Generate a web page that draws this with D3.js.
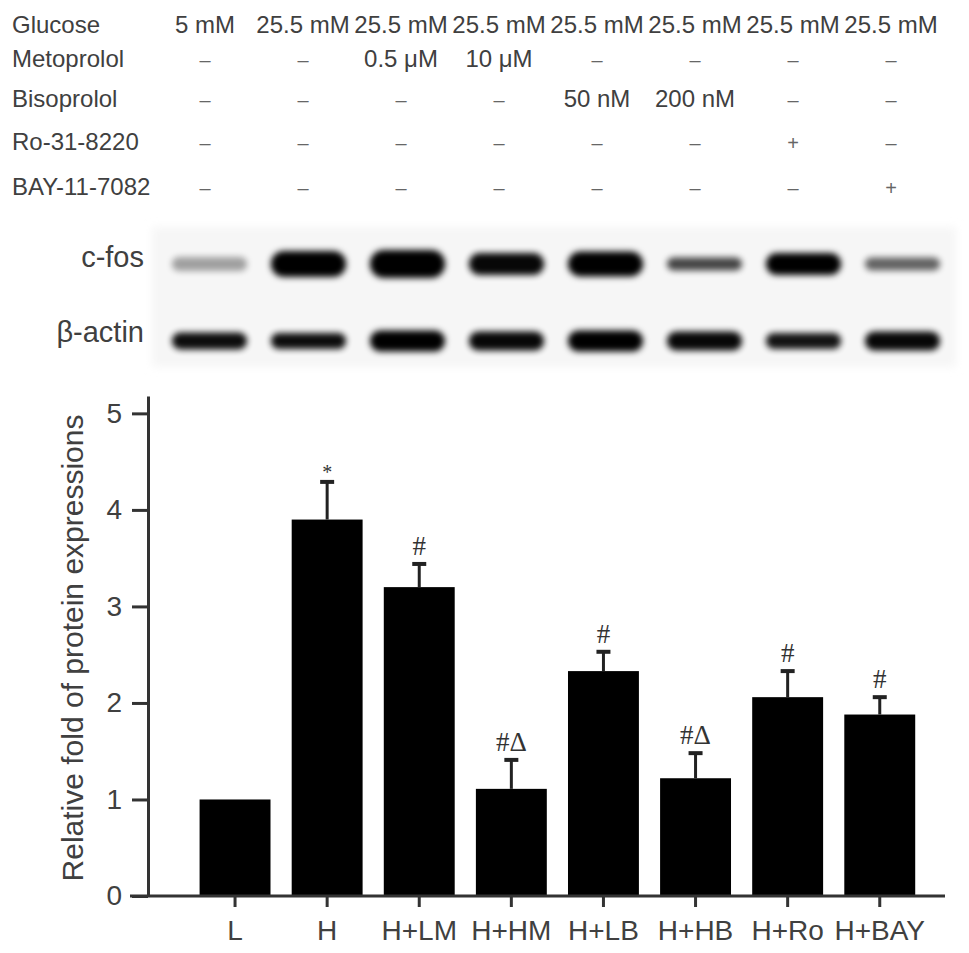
<!DOCTYPE html>
<meta charset="utf-8">
<script src="https://d3js.org/d3.v7.min.js"></script>
<style>
  body { margin: 0; background: #fff; }
  svg { font-family: "Liberation Sans", Arial, sans-serif; }
</style>
<div id="chart"></div>
<script>
// groups / lanes
const lanes = ["L", "H", "H+LM", "H+HM", "H+LB", "H+HB", "H+Ro", "H+BAY"];

// treatment table
const treatments = ["Glucose", "Metoprolol", "Bisoprolol", "Ro-31-8220", "BAY-11-7082"];
const glucose    = ["5 mM", "25.5 mM", "25.5 mM", "25.5 mM", "25.5 mM", "25.5 mM", "25.5 mM", "25.5 mM"];
const metoprolol = ["–", "–", "0.5 μM", "10 μM", "–", "–", "–", "–"];
const bisoprolol = ["–", "–", "–", "–", "50 nM", "200 nM", "–", "–"];
const ro318220   = ["–", "–", "–", "–", "–", "–", "+", "–"];
const bay117082  = ["–", "–", "–", "–", "–", "–", "–", "+"];
const tableRows = [glucose, metoprolol, bisoprolol, ro318220, bay117082];

// western blot band signal (0-1) and band thickness
const cfosSignal  = [0.35, 1, 1, 0.97, 1, 0.72, 1, 0.6];
const cfosThick   = [14, 26, 28, 22, 25, 13, 22, 13];
const actinSignal = [0.95, 0.95, 1, 0.97, 1, 0.97, 0.92, 0.97];
const actinThick  = [17, 16, 21, 19, 21, 19, 16, 19];

// relative fold of protein expression
const foldMean = [1.0, 3.90, 3.20, 1.11, 2.33, 1.22, 2.06, 1.88];
const foldSE   = [0, 0.39, 0.24, 0.30, 0.20, 0.26, 0.27, 0.18];
const marks    = ["", "*", "#", "#Δ", "#", "#Δ", "#", "#"];
const yTicks   = [0, 1, 2, 3, 4, 5];

const W = 969, H = 953;
const textCol = "#404040";

const svg = d3.select("#chart").append("svg")
  .attr("width", W)
  .attr("height", H);

const defs = svg.append("defs");
defs.append("filter").attr("id", "blur").attr("x", "-20%").attr("y", "-80%").attr("width", "140%").attr("height", "260%")
  .append("feGaussianBlur").attr("stdDeviation", 3.2);
defs.append("filter").attr("id", "softbg")
  .append("feGaussianBlur").attr("stdDeviation", 4);

// ---------- treatment table ----------
const col = d3.scalePoint().domain(lanes).range([205, 891]);
const rowBase = [33, 67, 107, 150, 195];

const table = svg.append("g").attr("font-size", 24).attr("fill", textCol);
table.selectAll("text.rowlab")
  .data(treatments)
  .join("text")
  .attr("class", "rowlab")
  .attr("x", 12)
  .attr("y", (d, i) => rowBase[i])
  .text(d => d);

tableRows.forEach((row, i) => {
  table.selectAll("text.r" + i)
    .data(row)
    .join("text")
    .attr("class", "r" + i)
    .attr("x", (d, j) => col(lanes[j]))
    .attr("y", rowBase[i])
    .attr("text-anchor", "middle")
    .attr("font-size", d => (d === "–" || d === "+") ? 20 : 24)
    .attr("fill", d => (d === "–" || d === "+") ? "#666" : textCol)
    .text(d => d);
});

// ---------- western blot ----------
const lane = d3.scaleBand().domain(lanes).range([160, 952]).paddingInner(0.2).paddingOuter(0.1);
const blot = svg.append("g");

blot.append("rect")
  .attr("x", 152).attr("y", 227)
  .attr("width", 804).attr("height", 140)
  .attr("fill", "#f6f6f6")
  .attr("filter", "url(#softbg)");

function drawBands(signal, thick, cy, cls) {
  blot.selectAll("rect." + cls)
    .data(lanes)
    .join("rect")
    .attr("class", cls)
    .attr("x", d => lane(d) + 2)
    .attr("width", lane.bandwidth() - 4)
    .attr("y", (d, i) => cy - thick[i] / 2)
    .attr("height", (d, i) => thick[i])
    .attr("rx", (d, i) => thick[i] / 2)
    .attr("fill", "#050505")
    .attr("opacity", (d, i) => signal[i])
    .attr("filter", "url(#blur)");
}
drawBands(cfosSignal, cfosThick, 264, "cfos");
drawBands(actinSignal, actinThick, 341, "actin");

blot.append("text")
  .attr("x", 144).attr("y", 267)
  .attr("text-anchor", "end")
  .attr("font-size", 29)
  .attr("fill", textCol)
  .text("c-fos");
blot.append("text")
  .attr("x", 144).attr("y", 342)
  .attr("text-anchor", "end")
  .attr("font-size", 29)
  .attr("fill", textCol)
  .text("β-actin");

// ---------- bar chart ----------
const x = d3.scaleBand().domain(lanes).range([178.4, 936.4]).paddingInner(0.23).paddingOuter(0.23);
const y = d3.scaleLinear().domain([0, 5.18]).range([896, 396]);
const axisX0 = 148;

const chart = svg.append("g");

chart.selectAll("rect.bar")
  .data(foldMean)
  .join("rect")
  .attr("class", "bar")
  .attr("x", (d, i) => x(lanes[i]))
  .attr("width", x.bandwidth())
  .attr("y", d => y(d))
  .attr("height", d => y(0) - y(d))
  .attr("fill", "#000");

// error bars
const eb = chart.selectAll("g.err")
  .data(foldMean.map((m, i) => ({ m, se: foldSE[i], lab: lanes[i], mark: marks[i] })).filter(d => d.se > 0))
  .join("g")
  .attr("class", "err")
  .attr("transform", d => `translate(${x(d.lab) + x.bandwidth() / 2},0)`);
eb.append("line")
  .attr("y1", d => y(d.m)).attr("y2", d => y(d.m + d.se))
  .attr("stroke", "#222").attr("stroke-width", 3);
eb.append("line")
  .attr("x1", -7).attr("x2", 7)
  .attr("y1", d => y(d.m + d.se)).attr("y2", d => y(d.m + d.se))
  .attr("stroke", "#222").attr("stroke-width", 4);
eb.append("text")
  .attr("text-anchor", "middle")
  .attr("font-family", "'Liberation Serif', 'Times New Roman', serif")
  .attr("font-size", d => d.mark === "*" ? 20 : 27)
  .attr("fill", "#333")
  .attr("y", d => y(d.m + d.se) - (d.mark === "*" ? 3 : 9))
  .text(d => d.mark);

// y axis
const yAxis = chart.append("g")
  .attr("transform", `translate(${axisX0},0)`)
  .call(d3.axisLeft(y).tickValues(yTicks).tickSize(16).tickPadding(10).tickSizeOuter(0).tickFormat(d3.format("d")));
yAxis.select(".domain").attr("stroke", "#333").attr("stroke-width", 3);
yAxis.selectAll(".tick line").attr("stroke", "#333").attr("stroke-width", 3);
yAxis.selectAll(".tick text").attr("font-size", 28).attr("fill", textCol).attr("font-family", "'Liberation Sans', Arial, sans-serif");

// x axis
const xAxis = chart.append("g")
  .attr("transform", `translate(0,${y(0)})`)
  .call(d3.axisBottom(x).tickSize(11).tickPadding(13).tickSizeOuter(0));
xAxis.select(".domain").remove();
xAxis.selectAll(".tick line").attr("stroke", "#333").attr("stroke-width", 3);
xAxis.selectAll(".tick text").attr("font-size", 28).attr("fill", textCol).attr("font-family", "'Liberation Sans', Arial, sans-serif");
xAxis.append("line")
  .attr("x1", 130).attr("x2", 945)
  .attr("stroke", "#333").attr("stroke-width", 3);

// y title
chart.append("text")
  .attr("transform", `translate(83,${(y(0) + 400) / 2}) rotate(-90)`)
  .attr("text-anchor", "middle")
  .attr("font-size", 30)
  .attr("fill", textCol)
  .text("Relative fold of protein expressions");
</script>
